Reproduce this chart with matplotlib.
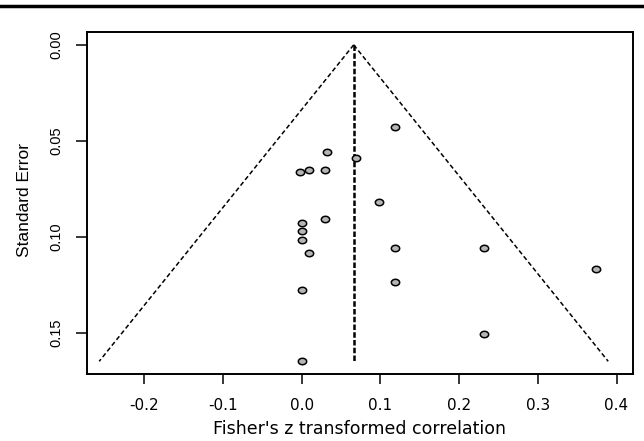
import numpy as np
import matplotlib
matplotlib.use("Agg")
import matplotlib.pyplot as plt
from matplotlib.lines import Line2D
from matplotlib.path import Path

plt.rcParams['font.family'] = ['Liberation Sans', 'DejaVu Sans']

# Study effects (Fisher's z) and their standard errors
z_vals = [0.118, 0.032, 0.0695, -0.002, 0.009, 0.030, 0.098, 0.000, 0.030, 0.000,
          0.000, 0.009, 0.118, 0.118, 0.000, 0.231, 0.374, 0.231, 0.000]
se_vals = [0.043, 0.0557, 0.059, 0.0665, 0.065, 0.065, 0.082, 0.093, 0.091, 0.097,
           0.1017, 0.1085, 0.1057, 0.1234, 0.128, 0.1057, 0.117, 0.151, 0.165]
pooled = 0.066
se_max = 0.165
xticks = [-0.2, -0.1, 0.0, 0.1, 0.2, 0.3, 0.4]
yticks = [0.00, 0.05, 0.10, 0.15]

fig = plt.figure(figsize=(6.44, 4.41), dpi=100)
ax = fig.add_axes([0.135, 0.152, 0.848, 0.775])

# funnel
se_line = np.array([0, se_max])
ax.plot(pooled - 1.96 * se_line, se_line, color='black', lw=1.1, ls=(0, (3, 1.8)))
ax.plot(pooled + 1.96 * se_line, se_line, color='black', lw=1.1, ls=(0, (3, 1.8)))
ax.plot([pooled, pooled], [0, se_max], color='black', lw=1.8, ls=(0, (2.2, 0.9)))

# slightly wide ellipse marker (picture is stretched horizontally)
t = np.linspace(0, 2 * np.pi, 40)
ell = Path(np.column_stack([1.3 * np.cos(t), np.sin(t)]), closed=True)
ax.scatter(z_vals, se_vals, s=36, marker=ell, facecolor='#b5b5b5', edgecolor='black',
           linewidth=1.1, zorder=3)

ax.set_xlim(-0.273, 0.421)
ax.set_ylim(0.1716, -0.0066)
ax.set_xticks(xticks)
ax.set_xticklabels([f"{t:.1f}" for t in xticks], family='DejaVu Sans', fontsize=11)
ax.set_yticks(yticks)
ax.set_yticklabels([f"{t:.2f}" for t in yticks], rotation=90, va='center', fontsize=10.5)

for s in ax.spines.values():
    s.set_linewidth(1.4)
ax.tick_params(axis='x', length=7, width=1.1, pad=10)
ax.tick_params(axis='y', length=8, width=1.1, pad=9)

ax.set_xlabel("Fisher's z transformed correlation", family='DejaVu Sans',
              fontsize=12.5, labelpad=5)
ax.set_ylabel("Standard Error", fontsize=12.5, va='center')
ax.yaxis.set_label_coords(-0.115, 0.51)

# thick rule at the top of the figure
fig.add_artist(Line2D([0, 1], [1 - 5.5 / 441, 1 - 5.5 / 441], color='black', lw=2.5))

fig.savefig("out.png", dpi=100)
